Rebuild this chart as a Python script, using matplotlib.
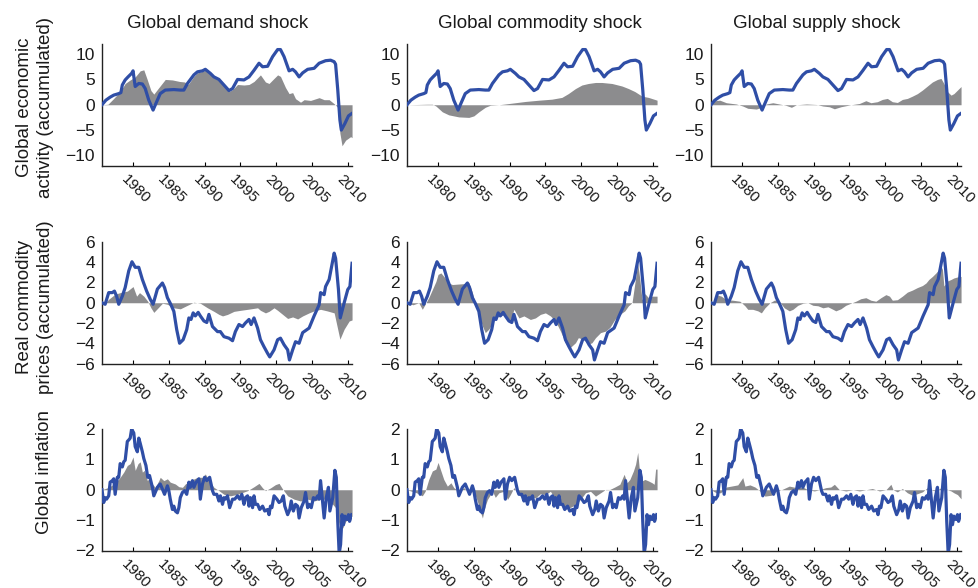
import matplotlib
matplotlib.use("Agg")
import matplotlib.pyplot as plt
import matplotlib.transforms as mtransforms

plt.rcParams['font.family'] = ['Liberation Sans', 'DejaVu Sans']

# ---------------- data ----------------
col_titles = ["Global demand shock", "Global commodity shock", "Global supply shock"]
row_labels = ["Global economic\nactivity (accumulated)",
              "Real commodity\nprices (accumulated)",
              "Global inflation"]
x_ticks = [1980, 1985, 1990, 1995, 2000, 2005, 2010]

# Row 1: global economic activity (blue line, same in all columns)
act_x = [1975.66, 1976.2, 1976.8, 1977.3, 1978.0, 1978.3, 1978.5, 1978.9, 1979.3, 1979.8,
         1980.0, 1980.3, 1980.8, 1981.3, 1981.7, 1982.2, 1982.8, 1983.3, 1983.8, 1984.5,
         1985.7, 1986.6, 1987.1, 1987.6, 1988.5, 1989.0, 1989.7, 1990.1, 1990.8, 1991.3,
         1992.0, 1992.7, 1993.4, 1993.9, 1994.6, 1995.5, 1996.2, 1996.9, 1997.6, 1998.1,
         1998.8, 1999.5, 2000.2, 2000.6, 2001.1, 2001.8, 2002.3, 2002.7, 2003.2, 2003.7,
         2004.4, 2005.3, 2006.0, 2006.9, 2007.6, 2008.1, 2008.3, 2008.6, 2008.9, 2009.1,
         2009.6, 2010.1, 2010.6]
act_y = [0.0, 0.9, 1.5, 1.9, 2.2, 2.4, 3.9, 4.9, 5.5, 6.2,
         6.7, 3.6, 4.2, 4.1, 3.2, 0.9, -1.05, 0.6, 2.2, 2.9,
         3.0, 2.9, 2.9, 4.2, 5.9, 6.5, 6.7, 7.0, 6.2, 5.5,
         5.0, 3.9, 2.8, 3.2, 5.0, 4.9, 5.5, 6.8, 8.2, 7.5,
         7.6, 9.5, 10.9, 10.9, 9.5, 6.7, 7.0, 6.5, 5.5, 6.3,
         7.0, 7.2, 8.2, 8.7, 8.8, 8.5, 8.0, 3.0, -3.0, -5.0,
         -3.7, -2.2, -1.7]

# Row 1 shaded contributions
act_dem_x = [1975.66, 1976.5, 1977.3, 1978.2, 1978.9, 1979.6, 1980.3, 1981.0, 1981.5, 1982.0,
             1982.5, 1982.9, 1983.5, 1984.5, 1985.5, 1986.5, 1987.2, 1987.7, 1988.5, 1989.0,
             1989.7, 1990.1, 1990.8, 1991.3, 1992.0, 1992.7, 1993.4, 1993.9, 1994.6, 1995.5,
             1996.2, 1996.9, 1997.8, 1998.5, 1999.0, 1999.7, 2000.2, 2000.6, 2001.3, 2001.8,
             2002.3, 2002.7, 2003.4, 2003.9, 2004.8, 2006.0, 2006.7, 2007.4, 2008.1, 2008.6,
             2008.9, 2009.2, 2009.7, 2010.4, 2010.6]
act_dem_y = [0.0, 0.1, 1.25, 2.6, 4.2, 4.9, 5.5, 6.7, 6.9, 4.9,
             2.8, 2.1, 3.2, 5.0, 4.9, 4.6, 4.5, 4.0, 5.6, 6.3,
             6.6, 6.8, 6.0, 5.3, 4.8, 3.7, 2.6, 3.0, 4.0, 3.9,
             4.0, 4.6, 5.9, 4.5, 4.2, 5.2, 5.9, 5.6, 3.4, 2.2,
             2.4, 1.2, 0.5, 1.0, 0.85, 1.4, 1.0, 1.0, 0.2, -0.5,
             -5.6, -8.1, -7.0, -6.3, -6.5]
act_com_x = [1975.66, 1978.5, 1979.2, 1979.7, 1980.6, 1981.5, 1982.9, 1984.3, 1985.0, 1985.7,
             1986.6, 1987.3, 1988.5, 1989.4, 1990.8, 1992.2, 1994.1, 1995.9, 1997.3, 1998.2,
             1999.2, 2000.1, 2001.0, 2002.0, 2002.9, 2004.3, 2005.7, 2006.6, 2007.5, 2008.5,
             2009.4, 2010.6]
act_com_y = [0.0, 0.1, 0.1, -0.25, -1.4, -2.0, -2.4, -2.5, -2.2, -1.4,
             -0.5, -0.1, 0.0, 0.15, 0.4, 0.65, 0.9, 1.1, 1.45, 2.2,
             3.2, 3.9, 4.2, 4.4, 4.4, 4.2, 3.7, 3.2, 2.6, 1.7,
             1.45, 0.9]
act_sup_x = [1975.66, 1976.2, 1976.9, 1977.8, 1979.2, 1980.1, 1980.8, 1982.0, 1982.7, 1983.4,
             1984.3, 1985.2, 1986.1, 1986.9, 1987.6, 1989.0, 1990.4, 1991.3, 1992.2, 1992.9,
             1993.8, 1995.0, 1996.4, 1997.3, 1998.0, 1998.9, 1999.6, 2000.3, 2001.0, 2001.7,
             2002.4, 2003.1, 2003.8, 2004.5, 2005.2, 2005.9, 2006.6, 2007.3, 2007.8, 2008.2,
             2008.7, 2009.2, 2009.6, 2010.1, 2010.6]
act_sup_y = [0.0, 0.8, 0.9, 0.4, 0.15, -0.25, -0.7, -0.85, -0.5, 0.15,
             0.4, 0.15, -0.1, -0.5, 0.0, 0.15, 0.05, -0.25, -0.4, -0.8,
             -0.4, -0.05, 0.25, 0.8, 0.4, 0.6, 1.05, 1.25, 0.6, 0.45,
             1.05, 1.25, 1.7, 2.2, 2.9, 3.7, 4.5, 5.0, 5.2, 4.2,
             2.6, 1.9, 2.2, 2.9, 3.6]

# Row 2: real commodity prices
prc_x = [1975.66, 1976.1, 1976.6, 1977.1, 1977.4, 1977.7, 1978.0, 1978.5, 1978.9, 1979.4,
         1979.85, 1980.3, 1980.8, 1981.3, 1981.9, 1982.4, 1982.8, 1983.4, 1984.1, 1984.4,
         1984.8, 1985.2, 1985.7, 1986.1, 1986.5, 1987.0, 1987.5, 1987.8, 1988.1, 1988.4,
         1988.7, 1989.1, 1989.4, 1989.9, 1990.3, 1990.6, 1991.1, 1991.8, 1992.2, 1992.7,
         1993.4, 1993.9, 1994.3, 1994.8, 1995.3, 1995.7, 1996.2, 1996.5, 1996.9, 1997.4,
         1997.8, 1998.3, 1998.8, 1999.1, 1999.7, 2000.2, 2000.6, 2001.1, 2001.6, 2001.85,
         2002.3, 2002.7, 2003.2, 2003.7, 2004.6, 2005.3, 2006.0, 2006.2, 2006.7, 2006.9,
         2007.4, 2008.1, 2008.3, 2008.7, 2008.95, 2009.5, 2010.0, 2010.3, 2010.6]
prc_y = [0.0, -0.15, 1.0, 1.0, 1.15, 0.65, -0.15, 0.65, 1.5, 3.15,
         4.05, 3.5, 3.5, 2.3, 1.15, 0.35, -0.15, 1.35, 1.95, 1.5,
         0.5, -0.05, -0.85, -2.65, -4.0, -3.65, -2.65, -1.5, -1.65, -1.0,
         -1.3, -0.95, -1.3, -1.8, -1.95, -1.15, -2.35, -2.85, -2.85, -3.35,
         -3.5, -3.75, -2.85, -2.15, -2.35, -2.0, -1.65, -2.15, -1.5, -2.5,
         -3.65, -4.35, -5.0, -5.35, -4.65, -3.65, -3.5, -4.15, -4.65, -5.65,
         -4.65, -3.85, -4.0, -2.95, -2.5, -1.3, -0.2, 1.0, 0.8, 1.6,
         2.3, 4.9, 4.4, 1.3, -1.5, 0.0, 1.3, 1.6, 3.9]

prc_dem_x = [1975.66, 1976.2, 1976.6, 1977.5, 1978.2, 1979.2, 1980.0, 1980.5, 1980.9, 1981.5,
             1982.05, 1982.5, 1982.9, 1983.5, 1984.1, 1984.8, 1985.7, 1986.6, 1987.6, 1988.5,
             1989.4, 1990.4, 1991.3, 1992.0, 1992.5, 1993.2, 1994.1, 1995.0, 1996.0, 1997.4,
             1997.8, 1998.5, 1999.0, 1999.7, 2000.2, 2000.9, 2001.6, 2002.3, 2003.0, 2003.7,
             2004.6, 2005.3, 2006.2, 2007.1, 2008.1, 2008.5, 2008.9, 2009.5, 2010.2, 2010.6]
prc_dem_y = [0.0, 0.05, 0.35, 0.85, 1.0, 1.15, 1.6, 0.65, 1.0, 0.65,
             0.15, -0.5, -0.95, -0.5, -0.05, -0.15, -0.5, -0.6, -0.25, 0.05,
             -0.05, -0.5, -0.85, -1.15, -1.3, -1.15, -0.85, -0.75, -0.65, -0.5,
             -0.75, -1.0, -0.85, -0.5, -0.75, -1.15, -1.55, -1.4, -1.6, -1.3,
             -1.0, -0.8, -0.65, -0.8, -1.0, -2.3, -3.6, -2.6, -1.8, -1.7]
prc_com_x = [1975.66, 1976.5, 1977.3, 1977.8, 1978.2, 1978.7, 1979.2, 1979.7, 1980.0, 1980.4,
             1981.1, 1981.5, 1982.0, 1982.9, 1983.9, 1984.3, 1984.8, 1985.2, 1985.7, 1986.2,
             1986.6, 1987.1, 1987.6, 1988.0, 1988.7, 1989.4, 1990.1, 1990.6, 1991.3, 1992.0,
             1992.9, 1993.6, 1994.3, 1995.0, 1995.7, 1996.4, 1997.1, 1997.8, 1998.5, 1999.2,
             1999.6, 2000.3, 2001.0, 2001.5, 2002.0, 2002.7, 2003.4, 2004.0, 2004.7, 2005.2,
             2005.7, 2006.1, 2006.6, 2007.1, 2007.5, 2007.9, 2008.2, 2008.5, 2008.9, 2009.4,
             2009.9, 2010.6]
prc_com_y = [0.0, -0.2, 0.0, -0.65, -0.15, 0.5, 1.3, 2.1, 2.8, 2.95,
             2.35, 1.95, 1.8, 1.85, 1.9, 2.0, 1.0, -0.15, -1.15, -2.3,
             -2.95, -2.6, -2.0, -1.5, -1.3, -1.15, -1.8, -0.65, -1.5, -1.3,
             -1.65, -1.5, -1.15, -1.0, -1.3, -1.8, -2.8, -3.95, -4.4, -3.95,
             -3.45, -3.6, -4.1, -3.95, -3.45, -2.95, -2.8, -2.45, -1.65, -1.3,
             -1.0, -0.8, -0.3, 0.0, 1.95, 3.9, 2.3, 0.3, 0.9, 0.5,
             0.65, 0.65]
prc_sup_x = [1975.66, 1976.0, 1976.4, 1977.1, 1977.8, 1978.7, 1979.7, 1980.4, 1980.8, 1981.5,
             1982.2, 1982.7, 1983.2, 1983.9, 1984.5, 1985.0, 1985.5, 1985.9, 1986.6, 1987.1,
             1987.8, 1988.5, 1989.2, 1989.9, 1990.6, 1991.3, 1992.0, 1992.7, 1993.1, 1993.8,
             1994.5, 1995.2, 1995.9, 1996.6, 1997.3, 1998.0, 1998.7, 1999.4, 2000.1, 2000.6,
             2001.0, 2001.7, 2002.4, 2003.1, 2003.8, 2004.5, 2005.2, 2005.7, 2006.1, 2006.6,
             2007.1, 2007.5, 2007.8, 2008.0, 2008.2, 2008.7, 2009.2, 2009.6, 2010.1, 2010.6]
prc_sup_y = [0.0, 0.1, 0.8, 0.65, 0.3, 0.25, 0.15, -0.3, -0.65, -0.65,
             -0.8, -1.0, -0.5, 0.0, 0.25, 0.3, -0.15, -0.5, -0.8, -0.65,
             -0.25, -0.05, 0.0, -0.25, -0.3, -0.5, -0.4, -0.65, -0.8, -0.6,
             -0.25, -0.05, 0.15, 0.4, 0.5, 0.25, 0.15, 0.5, 0.8, 0.65,
             0.25, 0.3, 0.65, 1.05, 1.25, 1.5, 1.7, 1.95, 2.3, 2.6,
             2.95, 3.3, 3.6, 3.3, 1.65, 2.15, 2.3, 2.45, 2.55, 2.6]

# Row 3: global inflation
inf_x = [1975.66, 1975.9, 1976.1, 1976.3, 1976.6, 1976.8, 1977.1, 1977.3, 1977.5, 1977.8,
         1978.0, 1978.2, 1978.5, 1978.7, 1978.9, 1979.2, 1979.4, 1979.6, 1979.8, 1980.1,
         1980.3, 1980.6, 1980.8, 1981.0, 1981.3, 1981.5, 1981.8, 1982.05, 1982.3, 1982.7,
         1982.9, 1983.4, 1983.8, 1984.0, 1984.4, 1984.8, 1985.0, 1985.2, 1985.5, 1985.7,
         1985.9, 1986.2, 1986.4, 1986.6, 1986.9, 1987.2, 1987.5, 1987.8, 1988.0, 1988.3,
         1988.5, 1988.8, 1989.0, 1989.2, 1989.4, 1989.7, 1990.0, 1990.3, 1990.5, 1990.7,
         1991.1, 1991.3, 1991.7, 1992.0, 1992.2, 1992.5, 1992.7, 1992.9, 1993.2, 1993.5,
         1993.9, 1994.2, 1994.6, 1994.9, 1995.2, 1995.5, 1995.7, 1996.0, 1996.2, 1996.4,
         1996.7, 1996.9, 1997.1, 1997.4, 1997.7, 1998.1, 1998.4, 1998.8, 1999.0, 1999.2,
         1999.4, 1999.7, 2000.1, 2000.4, 2000.7, 2001.0, 2001.2, 2001.6, 2001.9, 2002.1,
         2002.4, 2002.7, 2003.0, 2003.2, 2003.5, 2003.9, 2004.1, 2004.4, 2004.6, 2004.9,
         2005.2, 2005.5, 2005.8, 2006.0, 2006.2, 2006.5, 2006.7, 2007.0, 2007.3, 2007.5,
         2007.9, 2008.2, 2008.4, 2008.6, 2008.8, 2009.0, 2009.2, 2009.4, 2009.6, 2009.9,
         2010.1, 2010.25, 2010.55]
inf_y = [0.0, -0.42, -0.26, -0.31, -0.2, 0.25, 0.3, 0.36, -0.15, 0.41,
         0.41, 0.86, 0.75, 0.92, 0.97, 1.59, 1.64, 1.7, 2.0, 1.87,
         1.42, 1.25, 1.7, 1.53, 1.25, 1.03, 0.8, 0.41, 0.47, 0.08,
         -0.2, 0.08, 0.19, 0.08, -0.15, 0.13, -0.03, -0.31, -0.65, -0.54,
         -0.7, -0.76, -0.59, -0.26, -0.09, -0.03, -0.15, 0.25, 0.08, 0.3,
         0.08, 0.25, 0.3, 0.36, -0.31, 0.19, 0.41, 0.3, 0.36, 0.41,
         -0.03, -0.15, -0.15, -0.37, -0.2, -0.48, -0.26, -0.31, -0.2, -0.59,
         -0.31, -0.31, -0.2, -0.31, -0.15, -0.48, -0.26, -0.2, -0.54, -0.26,
         -0.59, -0.2, -0.48, -0.48, -0.65, -0.54, -0.7, -0.65, -0.82, -0.54,
         -0.59, -0.2, -0.31, -0.42, -0.37, -0.2, -0.54, -0.82, -0.65, -0.37,
         -0.7, -0.48, -0.54, -0.93, -0.59, -0.37, -0.09, -0.59, -0.48, -0.59,
         -0.26, -0.31, -0.2, -0.31, 0.3, -0.42, -0.93, -0.26, 0.08, -0.7,
         -0.26, 0.64, 0.41, -1.04, -2.1, -1.8, -0.82, -1.15, -0.87, -0.98,
         -0.82, -1.04, -0.82]

inf_dem_x = [1975.66, 1976.6, 1977.3, 1977.8, 1978.2, 1978.7, 1979.2, 1979.6, 1980.0, 1980.3,
             1980.7, 1981.0, 1981.3, 1981.6, 1982.0, 1982.3, 1982.7, 1983.1, 1983.6, 1983.8,
             1984.3, 1984.8, 1985.2, 1985.9, 1986.4, 1986.9, 1987.3, 1988.0, 1989.0, 1989.7,
             1990.1, 1990.6, 1991.3, 1992.0, 1992.7, 1993.6, 1994.6, 1996.0, 1996.9, 1997.6,
             1998.1, 1998.5, 1999.2, 1999.9, 2000.4, 2000.9, 2001.6, 2002.5, 2003.4, 2004.4,
             2005.3, 2006.2, 2007.2, 2007.9, 2008.3, 2008.8, 2009.3, 2009.7, 2010.2, 2010.6]
inf_dem_y = [0.0, 0.08, 0.19, 0.3, 0.41, 0.58, 0.8, 0.86, 1.08, 0.64,
             0.86, 0.92, 0.58, 0.64, 0.3, 0.39, 0.19, 0.08, 0.3, 0.41,
             0.3, 0.36, 0.25, 0.19, 0.1, 0.08, 0.19, 0.3, 0.41, 0.41,
             0.52, 0.3, 0.08, -0.03, -0.15, -0.2, -0.15, -0.03, 0.1, 0.21,
             0.06, -0.03, 0.06, 0.17, 0.21, 0.02, -0.2, -0.31, -0.37, -0.31,
             -0.37, -0.31, -0.31, -0.48, -0.59, -1.15, -1.26, -1.04, -0.93, -0.87]
inf_com_x = [1975.66, 1977.0, 1977.8, 1978.2, 1978.7, 1979.2, 1979.7, 1980.0, 1980.4, 1980.8,
             1981.3, 1981.8, 1982.2, 1982.9, 1983.6, 1984.3, 1985.0, 1985.5, 1985.9, 1986.2,
             1986.5, 1986.9, 1987.6, 1988.0, 1988.5, 1989.2, 1989.7, 1990.1, 1990.6, 1991.0,
             1991.5, 1992.2, 1992.9, 1993.6, 1994.3, 1995.0, 1995.7, 1996.4, 1997.1, 1997.8,
             1998.5, 1999.2, 1999.9, 2000.6, 2001.3, 2002.0, 2002.7, 2003.4, 2004.0, 2004.7,
             2005.4, 2006.0, 2006.4, 2006.8, 2007.3, 2007.6, 2007.9, 2008.1, 2008.5, 2008.9,
             2009.4, 2009.9, 2010.2, 2010.4, 2010.6]
inf_com_y = [0.0, -0.1, -0.2, -0.05, 0.34, 0.62, 0.68, 0.9, 0.62, 0.34,
             0.12, 0.23, 0.07, -0.05, 0.07, -0.1, -0.05, -0.38, -0.71, -0.93,
             -0.6, -0.32, -0.05, -0.25, -0.1, -0.05, -0.32, -0.16, 0.07, -0.05,
             -0.21, -0.27, -0.21, -0.27, -0.13, -0.16, -0.05, -0.32, -0.49, -0.6,
             -0.58, -0.49, -0.32, -0.1, -0.05, -0.21, -0.1, 0.01, 0.01, 0.09,
             0.18, 0.51, 0.23, 0.34, 0.62, 0.84, 1.23, 0.73, 0.29, 0.34,
             0.29, 0.23, 0.18, 0.68, 0.68]
inf_sup_x = [1975.66, 1976.4, 1977.0, 1977.8, 1978.5, 1979.4, 1980.1, 1980.4, 1981.1, 1981.8,
             1982.5, 1983.2, 1984.1, 1984.8, 1985.5, 1986.6, 1987.6, 1988.5, 1989.2, 1990.1,
             1990.8, 1991.7, 1992.4, 1992.9, 1993.6, 1994.5, 1995.5, 1996.4, 1997.3, 1998.2,
             1999.2, 2000.1, 2000.8, 2001.1, 2001.7, 2002.4, 2003.1, 2003.8, 2004.5, 2005.2,
             2005.9, 2006.6, 2007.1, 2007.8, 2008.2, 2008.7, 2009.2, 2009.6, 2010.1, 2010.6]
inf_sup_y = [0.0, -0.1, -0.1, 0.09, 0.12, 0.16, 0.4, 0.12, 0.16, 0.09,
             -0.04, -0.21, -0.18, -0.04, 0.0, 0.12, 0.07, 0.09, 0.0, -0.04,
             0.0, 0.07, 0.09, 0.18, 0.0, -0.04, 0.0, -0.04, 0.0, 0.04,
             -0.04, 0.0, 0.18, 0.0, -0.07, 0.04, -0.1, -0.18, -0.13, -0.07,
             0.07, -0.02, -0.04, 0.07, 0.12, 0.0, -0.04, -0.1, -0.16, -0.3]

rows = [
    dict(x=act_x, y=act_y, fills=[(act_dem_x, act_dem_y), (act_com_x, act_com_y), (act_sup_x, act_sup_y)],
         ylim=(-12, 12), yticks=[-10, -5, 0, 5, 10]),
    dict(x=prc_x, y=prc_y, fills=[(prc_dem_x, prc_dem_y), (prc_com_x, prc_com_y), (prc_sup_x, prc_sup_y)],
         ylim=(-6, 6), yticks=[-6, -4, -2, 0, 2, 4, 6]),
    dict(x=inf_x, y=inf_y, fills=[(inf_dem_x, inf_dem_y), (inf_com_x, inf_com_y), (inf_sup_x, inf_sup_y)],
         ylim=(-2, 2), yticks=[-2, -1, 0, 1, 2]),
]

# ---------------- layout ----------------
W, H = 979, 588
fig = plt.figure(figsize=(W / 100, H / 100), dpi=100)

col_left_px = [101.7, 406.7, 710.7]
ax_w_px = 250.5
row_top_px = [44, 242, 429]
ax_h_px = 121.5

blue = '#2f4ea6'
gray = '#8c8c8e'
text_color = '#1a1a1a'

for r, row in enumerate(rows):
    for c in range(3):
        left = col_left_px[c] / W
        bottom = 1 - (row_top_px[r] + ax_h_px) / H
        ax = fig.add_axes([left, bottom, ax_w_px / W, ax_h_px / H])
        fx, fy = row['fills'][c]
        ax.fill_between(fx, 0, fy, color=gray, linewidth=0, zorder=1)
        ax.plot(row['x'], row['y'], color=blue, linewidth=2.3, zorder=3,
                solid_joinstyle='round')
        ax.set_xlim(1975.62, 2010.62)
        ax.set_ylim(*row['ylim'])
        ax.set_yticks(row['yticks'])
        ax.set_xticks(x_ticks)
        ax.set_xticklabels([str(t) for t in x_ticks])
        for s in ['top', 'right']:
            ax.spines[s].set_visible(False)
        for s in ['left', 'bottom']:
            ax.spines[s].set_linewidth(1.0)
            ax.spines[s].set_color('#222222')
        ax.tick_params(axis='y', length=0, pad=5, labelsize=12.5, labelcolor=text_color)
        ax.tick_params(axis='x', direction='in', length=3, width=0.8, pad=5,
                       labelsize=11, labelcolor=text_color)
        offset = mtransforms.ScaledTranslation(-4 / 100, 0, fig.dpi_scale_trans)
        for lab in ax.get_xticklabels():
            lab.set_rotation(-45)
            lab.set_ha('left')
            lab.set_va('top')
            lab.set_rotation_mode('anchor')
            lab.set_transform(lab.get_transform() + offset)

# column titles
title_x_px = [218, 540, 817]
for c, t in enumerate(col_titles):
    fig.text(title_x_px[c] / W, 1 - 23 / H, t, ha='center', va='center',
             fontsize=13.5, color=text_color)

# row labels
label_pos = [(35, 107), (35, 307), (45, 472)]
for r, lab in enumerate(row_labels):
    x, y = label_pos[r]
    fig.text(x / W, 1 - y / H, lab, ha='center', va='center', rotation=90,
             fontsize=13.5, color=text_color, multialignment='center', linespacing=1.25)

fig.savefig('out.png', dpi=100)
